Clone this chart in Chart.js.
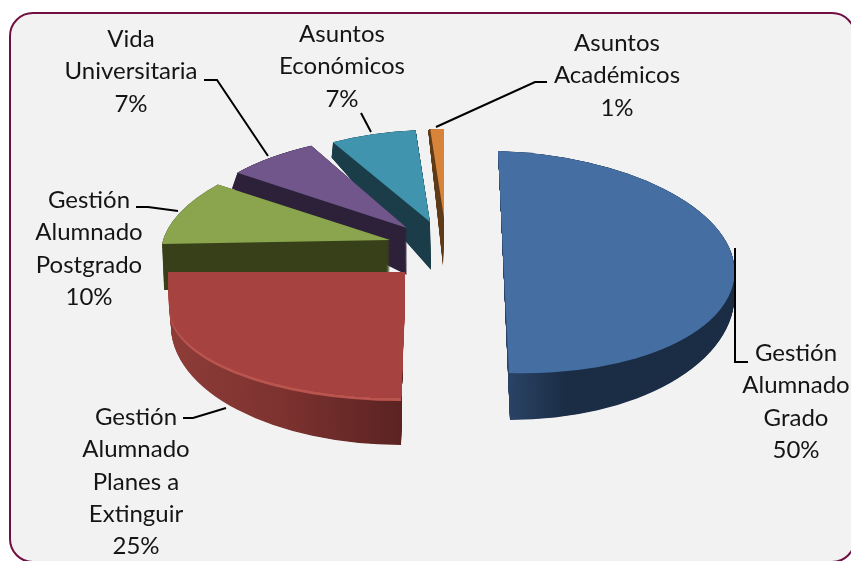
<!DOCTYPE html>
<html>
<head>
<meta charset="utf-8">
<title>Asuntos</title>
<script src="https://cdn.jsdelivr.net/npm/chart.js@4"></script>
<style>
  html, body { margin: 0; padding: 0; background: #fff; overflow: hidden; }
  .frame {
    position: absolute; left: 9px; top: 12px; width: 847px; height: 551px;
    box-sizing: border-box; border: 2px solid #720f42; border-radius: 24px;
    background: #f2f2f2;
  }
  canvas { position: absolute; left: 0; top: 0; }
</style>
</head>
<body>
<div class="frame"></div>
<canvas id="pie" width="851" height="561"></canvas>
<script>
// Data, clockwise from the top of the pie
const categories = [
  "Gestión Alumnado Grado",
  "Gestión Alumnado Planes a Extinguir",
  "Gestión Alumnado Postgrado",
  "Vida Universitaria",
  "Asuntos Económicos",
  "Asuntos Académicos",
];
const values = [50, 25, 10, 7, 7, 1];

// Line breaks of each data label
const labelLines = [
  ["Gestión", "Alumnado", "Grado"],
  ["Gestión", "Alumnado", "Planes a", "Extinguir"],
  ["Gestión", "Alumnado", "Postgrado"],
  ["Vida", "Universitaria"],
  ["Asuntos", "Económicos"],
  ["Asuntos", "Académicos"],
];

const topColors = ["#456fa3", "#a6423f", "#8aa54d", "#70568b", "#4094ad", "#d8833a"];
// Wall gradient stops from the left of the slice
const wallColors = [
  [[0.5, "#2a4365"], [0.62, "#1b2d45"], [1, "#1b2d45"]],
  [[0, "#8e3c38"], [0.25, "#7c322f"], [0.5, "#5a2322"], [1, "#5a2322"]],
  [[0, "#384019"], [1, "#384019"]],
  [[0, "#2c2138"], [1, "#2c2138"]],
  [[0, "#1b3d49"], [1, "#1b3d49"]],
  [[0, "#5e3a17"], [1, "#5e3a17"]],
];

// Perspective of each exploded slice: centre A, then images of the x and y
// radius, for the top face and for the bottom face
const sliceTop = [
  { a: [503.5, 262], u: [231, 7], v: [5.5, 111] },
  { a: [405, 272], u: [237, 0], v: [-4, 126] },
  { a: [390, 240], u: [228, -4], v: [-21, 100] },
  { a: [407, 228], u: [217, 0], v: [-10, 94] },
  { a: [430, 222], u: [198, -2], v: [2, 92] },
  { a: [444, 218], u: [220, 0], v: [0, 89] },
];
const sliceBottom = [
  { a: [504.5, 292], u: [230, 0], v: [5.5, 128] },
  { a: [403, 325], u: [232, 0], v: [-2, 120] },
  { a: [390, 290], u: [226, 0], v: [-21, 100] },
  { a: [407, 275], u: [228, 17], v: [-16, 124] },
  { a: [431, 270], u: [203, -3], v: [2, 130] },
  { a: [443, 266], u: [220, 0], v: [1, 136] },
];
// The red face is squarer than an ellipse, swept towards this second fit
const redFront = { a: [405, 305], u: [236, 0], v: [-4, 93] };

// Data label placement: centre x and y of the first line
const labelPos = [[796, 353], [136, 417], [89, 200], [131, 39], [342, 34], [617, 43]];
const lineHeight = 32.4;
const leaders = [
  [[735, 248], [735, 362], [748, 362]],
  [[183, 418], [193, 418], [226, 408]],
  [[136, 207], [148, 207], [178, 211]],
  [[204, 80], [217, 80], [268, 156]],
  [[361, 113], [371, 132]],
  [[547, 82], [535, 82], [436, 127]],
];

function drawSlice(ctx, arc, fit, fill) {
  const R = arc.outerRadius;
  const a = fit.u[0] / R, b = fit.u[1] / R, c = fit.v[0] / R, d = fit.v[1] / R;
  ctx.save();
  ctx.transform(a, b, c, d,
    fit.a[0] - a * arc.x - c * arc.y,
    fit.a[1] - b * arc.x - d * arc.y);
  const saved = arc.options;
  arc.options = Object.assign({}, saved, { backgroundColor: fill });
  arc.draw(ctx);
  arc.options = saved;
  ctx.restore();
}

function mixFit(p, q, t) {
  const mix = (x, y) => [x[0] + (y[0] - x[0]) * t, x[1] + (y[1] - x[1]) * t];
  return { a: mix(p.a, q.a), u: mix(p.u, q.u), v: mix(p.v, q.v) };
}

// Draws the Chart.js arcs back to front, swept from bottom face to top face
const pie3d = {
  id: "pie3d",
  beforeDatasetsDraw(chart) {
    const ctx = chart.ctx;
    const arcs = chart.getDatasetMeta(0).data;
    for (let i = arcs.length - 1; i >= 0; i--) {
      const arc = arcs[i];
      const grad = ctx.createLinearGradient(arc.x - arc.outerRadius, 0, arc.x + arc.outerRadius, 0);
      wallColors[i].forEach((s) => grad.addColorStop(s[0], s[1]));
      const steps = 70;
      for (let s = 0; s <= steps; s++) {
        drawSlice(ctx, arc, mixFit(sliceBottom[i], sliceTop[i], s / steps), grad);
      }
      if (i === 1) {
        // light bevel on the rim of the red slice, then the squarer face
        const bevel = { a: [redFront.a[0], redFront.a[1] + 3], u: redFront.u, v: redFront.v };
        drawSlice(ctx, arc, bevel, "#b9544f");
        for (let s = 0; s <= 30; s++) {
          drawSlice(ctx, arc, mixFit(sliceTop[i], redFront, s / 30), topColors[i]);
        }
      }
      drawSlice(ctx, arc, sliceTop[i], topColors[i]);
    }
    return false;
  },
  afterDraw(chart) {
    const ctx = chart.ctx;
    ctx.save();
    ctx.strokeStyle = "#000";
    ctx.lineWidth = 2;
    leaders.forEach((pts) => {
      ctx.beginPath();
      pts.forEach((p, k) => (k ? ctx.lineTo(p[0], p[1]) : ctx.moveTo(p[0], p[1])));
      ctx.stroke();
    });
    ctx.fillStyle = "#151515";
    ctx.font = "24px Lato";
    ctx.textAlign = "center";
    ctx.textBaseline = "middle";
    labelLines.forEach((lines, i) => {
      const all = lines.concat(values[i] + "%");
      all.forEach((line, k) => {
        ctx.fillText(line, labelPos[i][0], labelPos[i][1] + k * lineHeight);
      });
    });
    ctx.restore();
  },
};

new Chart(document.getElementById("pie"), {
  type: "pie",
  data: {
    labels: categories,
    datasets: [{ data: values, backgroundColor: topColors, borderWidth: 0 }],
  },
  options: {
    responsive: false,
    animation: false,
    plugins: { legend: { display: false }, tooltip: { enabled: false } },
  },
  plugins: [pie3d],
});
</script>
</body>
</html>
